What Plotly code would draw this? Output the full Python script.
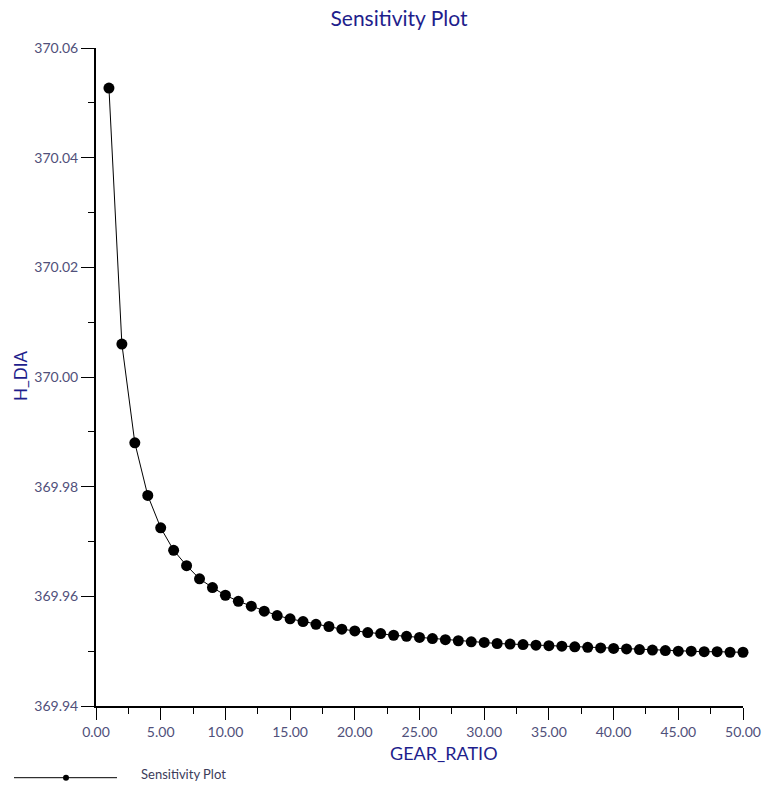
import plotly.graph_objects as go

# GEAR_RATIO sweep and the resulting H_DIA values
gear_ratio = list(range(1, 51))
h_dia = [
    370.0527, 370.0060, 369.9880, 369.9784, 369.9725, 369.9684, 369.9656, 369.9632,
    369.9616, 369.9602, 369.9591, 369.9582, 369.9573, 369.9565, 369.9559, 369.9554,
    369.9549, 369.9545, 369.9540, 369.9537, 369.9534, 369.9532, 369.9529, 369.9527,
    369.9525, 369.9523, 369.9521, 369.9519, 369.9517, 369.9516, 369.9514, 369.9513,
    369.9512, 369.9511, 369.9510, 369.9509, 369.9508, 369.9507, 369.9506, 369.9505,
    369.9504, 369.9503, 369.9502, 369.9501, 369.9500, 369.9500, 369.9499, 369.9499,
    369.9498, 369.9498,
]
series_name = "Sensitivity Plot"
x_title = "GEAR_RATIO"
y_title = "H_DIA"

W, H = 779, 785
L, R, T, B = 96, 36, 48, 79
PW, PH = W - L - R, H - T - B

def px(x):
    return (x - L) / PW

def py(y):
    return (H - B - y) / PH

FONT = "Lato"
NAVY = "#1e1e8c"
TICK_COLOR = "#50507a"

fig = go.Figure()
fig.add_trace(go.Scatter(
    x=gear_ratio, y=h_dia, mode="lines+markers", name=series_name,
    line=dict(color="black", width=1),
    marker=dict(color="black", size=11),
    cliponaxis=False,
    showlegend=False,
))

axis_common = dict(
    showline=True, linecolor="black", linewidth=2, mirror=False,
    ticks="outside", tickcolor="black", tickwidth=1,
    showgrid=False, zeroline=False,
    tickfont=dict(family=FONT, size=14, color=TICK_COLOR),
    tickformat=".2f",
)

fig.update_xaxes(
    range=[0, 50], tick0=0, dtick=5, ticklen=12,
    minor=dict(dtick=2.5, ticklen=6, ticks="outside", tickcolor="black", showgrid=False),
    **axis_common,
)
fig.update_yaxes(
    range=[369.94, 370.06], tick0=369.94, dtick=0.02, ticklen=13,
    minor=dict(dtick=0.01, ticklen=6, ticks="outside", tickcolor="black", showgrid=False),
    **axis_common,
)

annotations = [
    dict(text=x_title, x=px(444), y=py(753), xref="paper", yref="paper",
         showarrow=False, xanchor="center", yanchor="middle",
         font=dict(family=FONT, size=18, color=NAVY)),
    dict(text=y_title, x=px(20), y=py(376), xref="paper", yref="paper",
         showarrow=False, xanchor="center", yanchor="middle", textangle=-90,
         font=dict(family=FONT, size=17, color=NAVY)),
    dict(text=series_name, x=px(139), y=py(774), xref="paper", yref="paper",
         showarrow=False, xanchor="left", yanchor="middle",
         font=dict(family=FONT, size=13, color="#3c3c5a")),
]

# Legend key: line with a small dot, drawn below the plot
shapes = [
    dict(type="line", xref="paper", yref="paper",
         x0=px(14), x1=px(117), y0=py(777.7), y1=py(777.7),
         line=dict(color="black", width=1)),
    dict(type="circle", xref="paper", yref="paper",
         x0=px(63), x1=px(69), y0=py(780.7), y1=py(774.7),
         fillcolor="black", line=dict(color="black", width=0)),
]

fig.update_layout(
    width=W, height=H,
    margin=dict(l=L, r=R, t=T, b=B, autoexpand=False),
    paper_bgcolor="white", plot_bgcolor="white",
    title=dict(text=series_name, x=399 / W, y=1 - 19 / H, xref="container", yref="container",
               xanchor="center", yanchor="middle",
               font=dict(family=FONT, size=21, color=NAVY)),
    annotations=annotations,
    shapes=shapes,
    showlegend=False,
)

fig.write_html("out.html")
